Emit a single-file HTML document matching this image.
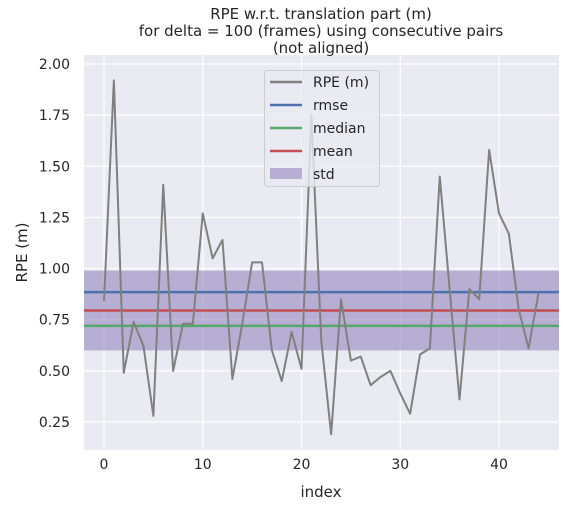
<!DOCTYPE html>
<html><head><meta charset="utf-8"><style>body{margin:0;background:#fff}svg{display:block;font-family:"DejaVu Sans","Liberation Sans",sans-serif}</style></head>
<body>
<svg id="c" width="578" height="508"></svg>
<script>
const indices=[...Array(45).keys()];
const rpeValues=[0.84,1.92,0.49,0.74,0.62,0.28,1.41,0.50,0.73,0.73,1.27,1.05,1.14,0.46,0.73,1.03,1.03,0.60,0.45,0.69,0.51,1.75,0.65,0.19,0.85,0.55,0.57,0.43,0.47,0.50,0.39,0.29,0.58,0.61,1.45,0.90,0.36,0.90,0.85,1.58,1.27,1.17,0.80,0.61,0.88];
const rmse=0.885, mean=0.795, median=0.72, stdLow=0.60, stdHigh=0.99;
const xTicks=[0,10,20,30,40];
const yTicks=[0.25,0.50,0.75,1.00,1.25,1.50,1.75,2.00];
const NS="http://www.w3.org/2000/svg";
const svg=document.getElementById('c');
const L=84,R=559,T=55,B=450;
const xs=v=>104+(v-0)*(499-104)/40;
const ys=v=>422-(v-0.25)*(422-64)/1.75;
function el(t,a,p){const e=document.createElementNS(NS,t);for(const k in a)e.setAttribute(k,a[k]);(p||svg).appendChild(e);return e;}
const bg=el('rect',{x:L,y:T,width:R-L,height:B-T,fill:'#eaeaf2'});


xTicks.forEach(t=>{
 const g=el('line',{x1:xs(t),x2:xs(t),y1:T,y2:B,stroke:'#fff','stroke-width':1.2});
 
 
 const tx=el('text',{x:xs(t),y:B+19,'text-anchor':'middle','font-size':14,fill:'#262626'});tx.textContent=t;
 
 
});
yTicks.forEach(t=>{
 const g=el('line',{x1:L,x2:R,y1:ys(t),y2:ys(t),stroke:'#fff','stroke-width':1.2});
 
 
 const tx=el('text',{x:L-14,y:ys(t)+5,'text-anchor':'end','font-size':14,fill:'#262626'});tx.textContent=t.toFixed(2);
 
 
});
const band=el('rect',{x:L,y:ys(stdHigh),width:R-L,height:ys(stdLow)-ys(stdHigh),fill:'#8172b3','fill-opacity':0.5});


[[rmse,'#4c72b0','rmse-line'],[median,'#55a868','median-line'],[mean,'#c44e52','mean-line']].forEach(([v,c,n])=>{
 const l=el('line',{x1:L,x2:R,y1:ys(v),y2:ys(v),stroke:c,'stroke-width':2.5});
 
 
});
const pl=el('polyline',{points:indices.map((i)=>xs(i)+','+ys(rpeValues[i])).join(' '),fill:'none',stroke:'#808080','stroke-width':2,'stroke-linejoin':'round'});


// legend
const lg=el('g',{});


el('rect',{x:264.5,y:70.5,width:115,height:116,rx:3,fill:'#eaeaf2','fill-opacity':0.8,stroke:'#ccc'},lg);
const items=[['RPE (m)','#808080','line'],['rmse','#4c72b0','line'],['median','#55a868','line'],['mean','#c44e52','line'],['std','#8172b3','patch']];
items.forEach((it,i)=>{
 const y=82+i*23;
 if(it[2]==='line'){const l=el('line',{x1:270,x2:302,y1:y,y2:y,stroke:it[1],'stroke-width':2.5},lg);}
 else{el('rect',{x:270,y:y-6,width:32,height:11,fill:it[1],'fill-opacity':0.5},lg);}
 const tx=el('text',{x:313,y:y+5,'font-size':14,fill:'#262626'},lg);tx.textContent=it[0];
 
 
});
['RPE w.r.t. translation part (m)','for delta = 100 (frames) using consecutive pairs','(not aligned)'].forEach((s,i)=>{
 const tx=el('text',{x:321,y:19+i*17,'text-anchor':'middle','font-size':15,fill:'#262626'});tx.textContent=s;
 
 
});
const xl=el('text',{x:321,y:497,'text-anchor':'middle','font-size':15,fill:'#262626'});xl.textContent='index';


const yl=el('text',{x:0,y:0,'text-anchor':'middle','font-size':15,fill:'#262626',transform:'translate(27,'+((T+B)/2)+') rotate(-90)'});yl.textContent='RPE (m)';


</script>
</body></html>
